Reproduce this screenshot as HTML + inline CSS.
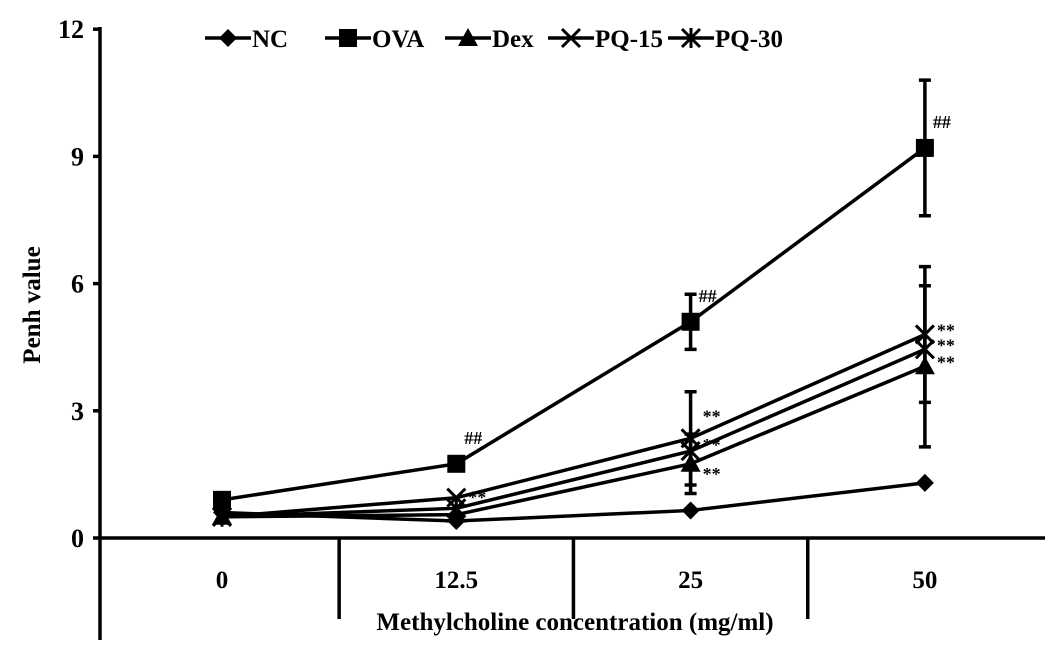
<!DOCTYPE html>
<html><head><meta charset="utf-8"><style>
body{margin:0;background:#fff}
svg text{font-family:"Liberation Serif",serif;font-weight:bold;fill:#000}
</style></head><body>
<svg id="chart" width="1063" height="653" viewBox="0 0 1063 653" xmlns="http://www.w3.org/2000/svg"></svg>
<script>
const categories=["0","12.5","25","50"];
const yTicks=[0,3,6,9,12];
const seriesNames=["NC","OVA","Dex","PQ-15","PQ-30"];
const ncValues=[0.6,0.4,0.65,1.3];
const ovaValues=[0.9,1.75,5.1,9.2];
const dexValues=[0.5,0.55,1.75,4.05];
const pq15Values=[0.5,0.95,2.35,4.8];
const pq30Values=[0.5,0.7,2.05,4.45];
const ovaErr=[0,0,0.65,1.6];
const dexErr=[0,0,0.7,1.9];
const pq15Err=[0,0,1.1,1.6];
const ovaMarks=["","##","##","##"];
const treatMarks=["","**","**","**"];
const NS="http://www.w3.org/2000/svg";
const svg=document.getElementById('chart');
const X0=100,X1=1045,Y0=538,PX=42.4,STEP=234.3;
function xs(i){return 222+i*STEP;}
function ys(v){return Y0-v*PX;}
function mk(t,a,p){const e=document.createElementNS(NS,t);for(const k in a)e.setAttribute(k,a[k]);(p||svg).appendChild(e);return e;}
let e=mk('line',{x1:X0,y1:27,x2:X0,y2:640,stroke:'#000','stroke-width':3.5});


e=mk('line',{x1:X0,y1:Y0,x2:X1,y2:Y0,stroke:'#000','stroke-width':3.5});


for(let i=1;i<categories.length;i++){
  const x=xs(i-1)+STEP/2;
  e=mk('line',{x1:x,y1:Y0,x2:x,y2:619,stroke:'#000','stroke-width':3.5});
  
  
}
yTicks.forEach(v=>{
  e=mk('line',{x1:X0-7,y1:ys(v),x2:X0,y2:ys(v),stroke:'#000','stroke-width':3.5});
  
  
  e=mk('text',{x:X0-16,y:ys(v)+9,'text-anchor':'end','font-size':26});
  e.textContent=v;
  
  
});
categories.forEach((c,i)=>{
  e=mk('text',{x:xs(i),y:588,'text-anchor':'middle','font-size':25});
  e.textContent=c;
  
  
});
e=mk('text',{x:575,y:630,'text-anchor':'middle','font-size':25});
e.textContent='Methylcholine concentration (mg/ml)';


e=mk('text',{x:0,y:0,'text-anchor':'middle','font-size':25,transform:'translate(40,305) rotate(-90)'});
e.textContent='Penh value';


function marker(type,x,y,g){
  if(type=='diamond')mk('polygon',{points:`${x},${y-9} ${x+9},${y} ${x},${y+9} ${x-9},${y}`,fill:'#000'},g);
  else if(type=='square')mk('rect',{x:x-9,y:y-9,width:18,height:18,fill:'#000'},g);
  else if(type=='triangle')mk('polygon',{points:`${x},${y-10} ${x+10},${y+8} ${x-10},${y+8}`,fill:'#000'},g);
  else if(type=='x'){mk('path',{d:`M${x-9},${y-9}L${x+9},${y+9}M${x+9},${y-9}L${x-9},${y+9}`,stroke:'#000','stroke-width':3},g);}
  else {mk('path',{d:`M${x-9},${y-9}L${x+9},${y+9}M${x+9},${y-9}L${x-9},${y+9}M${x},${y-10}L${x},${y+10}`,stroke:'#000','stroke-width':3},g);}
}
const all=[[ncValues,'diamond',null],[ovaValues,'square',ovaErr],[dexValues,'triangle',dexErr],[pq15Values,'x',pq15Err],[pq30Values,'star',null]];
all.forEach((s,si)=>{
  const g=mk('g',{});
  
  
  if(s[2])s[0].forEach((v,i)=>{const er=s[2][i];if(!er)return;const x=xs(i);
    mk('path',{d:`M${x},${ys(v-er)}L${x},${ys(v+er)}M${x-6},${ys(v-er)}L${x+6},${ys(v-er)}M${x-6},${ys(v+er)}L${x+6},${ys(v+er)}`,stroke:'#000','stroke-width':3.5,fill:'none'},g);});
  mk('polyline',{points:s[0].map((v,i)=>xs(i)+','+ys(v)).join(' '),fill:'none',stroke:'#000','stroke-width':3.5},g);
  s[0].forEach((v,i)=>marker(s[1],xs(i),ys(v),g));
});
ovaMarks.forEach((m,i)=>{if(!m)return;
  e=mk('text',{x:xs(i)+8,y:ys(ovaValues[i])-20,'font-size':18,'font-weight':'normal',fill:'#444'});
  e.textContent=m;
  
  });
[[pq15Values,0],[pq30Values,1],[dexValues,2]].forEach(([arr,k])=>{
  treatMarks.forEach((m,i)=>{if(!m)return; if(i==1&&k!=0)return;
    e=mk('text',{x:xs(i)+12,y:ys(arr[i])+(i==1?6:2)+(i==2?(k==0?-18:k==1?-2:14):0),'font-size':18});
    e.textContent=m;
    
    });
});
const legX=[205,325,445,548,668],legT=['diamond','square','triangle','x','star'];
seriesNames.forEach((n,i)=>{
  const g=mk('g',{});
  
  
  mk('line',{x1:legX[i],y1:38,x2:legX[i]+46,y2:38,stroke:'#000','stroke-width':3.5},g);
  marker(legT[i],legX[i]+23,38,g);
  const t=mk('text',{x:legX[i]+47,y:47,'font-size':25},g);t.textContent=n;
});
</script>
</body></html>
